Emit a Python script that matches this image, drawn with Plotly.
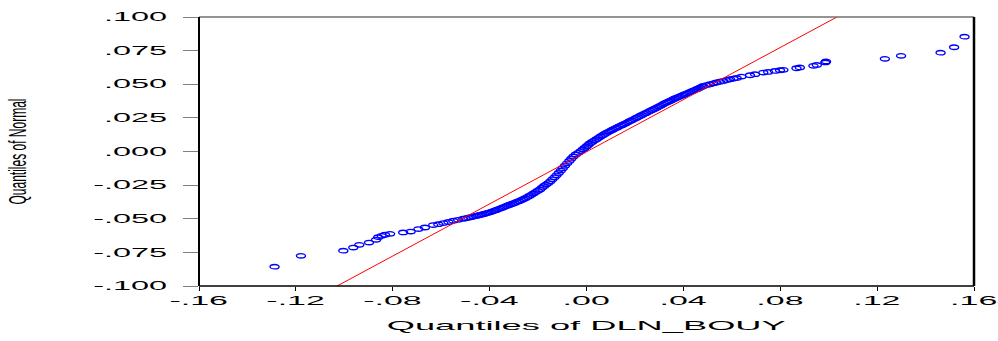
import plotly.graph_objects as go

# Empirical quantiles of DLN_BOUY (x) vs. quantiles of the Normal (y)
x_quantiles = [
    -0.1288, -0.1179, -0.1004, -0.0963, -0.0938, -0.0898, -0.0869, -0.0860, -0.0846, -0.0832,
    -0.0811, -0.0757, -0.0726, -0.0694, -0.0667, -0.0633, -0.0612, -0.0591, -0.0570, -0.0550,
    -0.0530, -0.0509, -0.0499, -0.0488, -0.0478, -0.0467, -0.0457, -0.0448, -0.0440, -0.0431,
    -0.0423, -0.0415, -0.0407, -0.0399, -0.0391, -0.0382, -0.0374, -0.0366, -0.0357, -0.0348,
    -0.0339, -0.0330, -0.0322, -0.0314, -0.0305, -0.0297, -0.0288, -0.0279, -0.0270, -0.0261,
    -0.0253, -0.0244, -0.0236, -0.0228, -0.0219, -0.0210, -0.0201, -0.0192, -0.0184, -0.0175,
    -0.0167, -0.0158, -0.0149, -0.0141, -0.0132, -0.0124, -0.0115, -0.0106, -0.0098, -0.0089,
    -0.0080, -0.0071, -0.0063, -0.0054, -0.0044, -0.0034, -0.0024, -0.0015, -0.0008, 0.0000,
    0.0007, 0.0014, 0.0023, 0.0032, 0.0041, 0.0050, 0.0058, 0.0067, 0.0075, 0.0084,
    0.0093, 0.0102, 0.0110, 0.0119, 0.0127, 0.0135, 0.0144, 0.0152, 0.0161, 0.0170,
    0.0178, 0.0187, 0.0196, 0.0205, 0.0212, 0.0221, 0.0229, 0.0238, 0.0246, 0.0255,
    0.0264, 0.0273, 0.0281, 0.0290, 0.0298, 0.0306, 0.0314, 0.0322, 0.0331, 0.0340,
    0.0349, 0.0358, 0.0365, 0.0372, 0.0379, 0.0386, 0.0395, 0.0404, 0.0413, 0.0422,
    0.0429, 0.0438, 0.0446, 0.0455, 0.0462, 0.0469, 0.0476, 0.0482, 0.0496, 0.0510,
    0.0524, 0.0537, 0.0551, 0.0565, 0.0579, 0.0593, 0.0607, 0.0620, 0.0640, 0.0675,
    0.0696, 0.0730, 0.0750, 0.0778, 0.0799, 0.0813, 0.0867, 0.0881, 0.0937, 0.0951,
    0.0986, 0.0989, 0.1232, 0.1299, 0.1462, 0.1518, 0.1561,
]
y_normal = [
    -0.0856, -0.0776, -0.0737, -0.0714, -0.0694, -0.0677, -0.0657, -0.0637, -0.0627, -0.0619,
    -0.0612, -0.0602, -0.0595, -0.0577, -0.0565, -0.0547, -0.0540, -0.0532, -0.0524, -0.0515,
    -0.0508, -0.0500, -0.0497, -0.0492, -0.0488, -0.0484, -0.0479, -0.0476, -0.0472, -0.0468,
    -0.0464, -0.0460, -0.0456, -0.0452, -0.0447, -0.0441, -0.0436, -0.0430, -0.0424, -0.0418,
    -0.0411, -0.0405, -0.0399, -0.0394, -0.0388, -0.0382, -0.0375, -0.0369, -0.0362, -0.0355,
    -0.0347, -0.0339, -0.0330, -0.0322, -0.0312, -0.0302, -0.0292, -0.0282, -0.0269, -0.0256,
    -0.0246, -0.0235, -0.0222, -0.0207, -0.0192, -0.0177, -0.0160, -0.0142, -0.0124, -0.0106,
    -0.0088, -0.0070, -0.0053, -0.0037, -0.0022, -0.0010, 0.0003, 0.0015, 0.0026, 0.0037,
    0.0049, 0.0060, 0.0071, 0.0081, 0.0092, 0.0102, 0.0112, 0.0121, 0.0131, 0.0140,
    0.0148, 0.0156, 0.0164, 0.0172, 0.0179, 0.0187, 0.0194, 0.0201, 0.0209, 0.0217,
    0.0225, 0.0233, 0.0241, 0.0249, 0.0256, 0.0264, 0.0272, 0.0280, 0.0287, 0.0295,
    0.0303, 0.0311, 0.0318, 0.0326, 0.0334, 0.0341, 0.0349, 0.0357, 0.0365, 0.0372,
    0.0380, 0.0388, 0.0394, 0.0399, 0.0405, 0.0410, 0.0417, 0.0424, 0.0431, 0.0438,
    0.0444, 0.0450, 0.0457, 0.0463, 0.0469, 0.0475, 0.0481, 0.0487, 0.0494, 0.0500,
    0.0507, 0.0513, 0.0519, 0.0525, 0.0531, 0.0537, 0.0542, 0.0547, 0.0557, 0.0567,
    0.0575, 0.0587, 0.0592, 0.0599, 0.0604, 0.0607, 0.0619, 0.0625, 0.0637, 0.0644,
    0.0662, 0.0669, 0.0689, 0.0711, 0.0735, 0.0775, 0.0854,
]

# Reference (fitted) line
fit_slope = 0.969
fit_intercept = -0.0002

x_range = [-0.16, 0.16]
y_range = [-0.10, 0.10]
x_tickvals = [-0.16, -0.12, -0.08, -0.04, 0.00, 0.04, 0.08, 0.12, 0.16]
x_ticktext = ["-.16", "-.12", "-.08", "-.04", ".00", ".04", ".08", ".12", ".16"]
y_tickvals = [-0.100, -0.075, -0.050, -0.025, 0.000, 0.025, 0.050, 0.075, 0.100]
y_ticktext = ["-.100", "-.075", "-.050", "-.025", ".000", ".025", ".050", ".075", ".100"]

FONT = "Liberation Sans, Arial, sans-serif"

fig = go.Figure()
fig.add_trace(go.Scatter(
    x=x_quantiles, y=y_normal, mode="markers",
    marker=dict(symbol="circle-open", size=7, color="#0000FF", line=dict(width=1.4, color="#0000FF")),
    showlegend=False, hoverinfo="skip",
))
fig.add_trace(go.Scatter(
    x=x_range, y=[fit_slope * v + fit_intercept for v in x_range], mode="lines",
    line=dict(color="#FF0000", width=1), showlegend=False, hoverinfo="skip",
))

fig.update_layout(
    width=998, height=341,
    margin=dict(l=199, r=24, t=17, b=55),
    paper_bgcolor="white", plot_bgcolor="white",
    font=dict(family=FONT, size=12, color="black"),
    xaxis=dict(
        range=x_range, tickvals=x_tickvals, ticktext=x_ticktext,
        showgrid=False, zeroline=False, showline=False,
        ticks="outside", ticklen=4, tickwidth=1, tickcolor="black",
        tickfont=dict(family=FONT, size=12, color="black"),
        title=dict(text="Quantiles of DLN_BOUY", font=dict(family=FONT, size=13, color="black"), standoff=13),
        automargin=False,
    ),
    yaxis=dict(
        range=y_range, tickvals=y_tickvals, ticktext=y_ticktext,
        showgrid=False, zeroline=False, showline=False,
        ticks="outside", ticklen=15, tickwidth=1, tickcolor="#808080",
        ticklabelstandoff=13,
        tickfont=dict(family=FONT, size=12, color="black"),
        title=dict(text="Quantiles of Normal", font=dict(family=FONT, size=12, color="black"), standoff=115),
        automargin=False,
    ),
    shapes=[
        dict(type="line", xref="paper", yref="paper", x0=0, x1=1, y0=1, y1=1, line=dict(color="#707070", width=1.5)),
        dict(type="line", xref="paper", yref="paper", x0=0, x1=1, y0=0, y1=0, line=dict(color="black", width=1.5)),
        dict(type="line", xref="paper", yref="paper", x0=0, x1=0, y0=0, y1=1, line=dict(color="black", width=2)),
        dict(type="line", xref="paper", yref="paper", x0=1, x1=1, y0=0, y1=1, line=dict(color="black", width=2.5)),
    ],
)

post_js = """
var gd = document.getElementById('{plot_id}');
function stretch(sel, kx, ky, anchor){
  var els = gd.querySelectorAll(sel);
  for (var i = 0; i < els.length; i++){
    var t = els[i];
    if (t.getAttribute('data-st')) continue;
    var b = t.getBBox();
    var cx = anchor === 'end' ? b.x + b.width : b.x + b.width / 2;
    var cy = b.y + b.height / 2;
    var tr = t.getAttribute('transform') || '';
    t.setAttribute('transform', tr + ' translate(' + cx + ',' + cy + ') scale(' + kx + ',' + ky + ') translate(' + (-cx) + ',' + (-cy) + ')');
    t.setAttribute('data-st', '1');
  }
}
stretch('g.xtick text', 2.83, 1, 'middle');
stretch('g.ytick text', 2.7, 1, 'end');
stretch('text.xtitle', 2.79, 1, 'middle');
stretch('text.ytitle', 1, 2.0, 'middle');
var pts = gd.querySelectorAll('path.point');
for (var j = 0; j < pts.length; j++){
  pts[j].setAttribute('d', 'M4.5,0A4.5,2.2 0 1,1 -4.5,0A4.5,2.2 0 1,1 4.5,0Z');
}
"""

fig.write_html("out.html", post_script=post_js, config={"displayModeBar": False})
